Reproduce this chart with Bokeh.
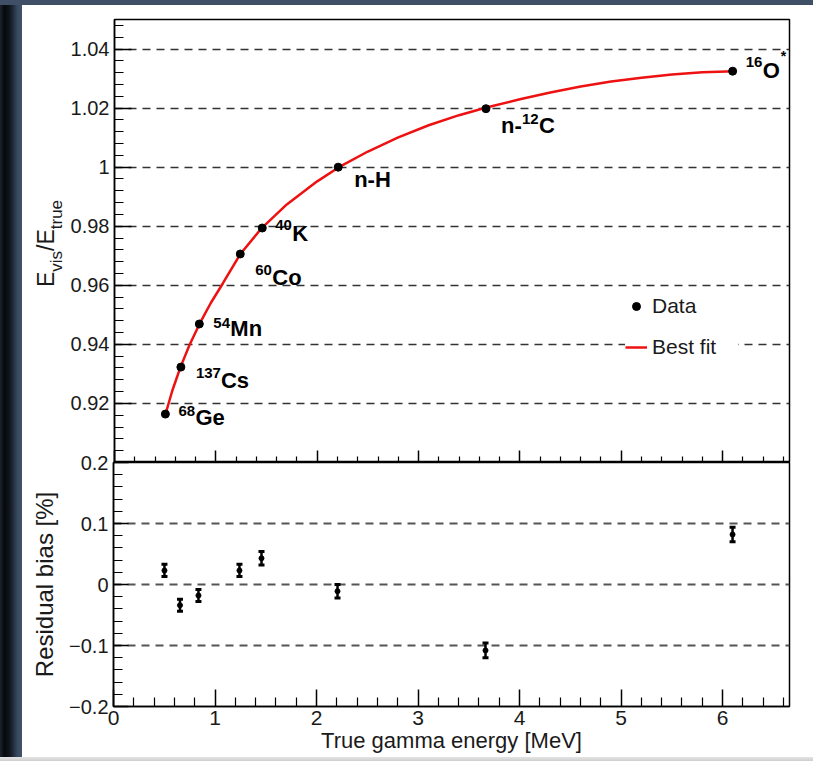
import numpy as np
from bokeh.plotting import figure
from bokeh.models import (ColumnDataSource, FixedTicker, Whisker, TeeHead, Legend,
                          LegendItem, Div, Range1d)
from bokeh.layouts import column, row
from bokeh.core.properties import value
from bokeh.embed import file_html
from bokeh.resources import INLINE

# ---------------- data ----------------
source_names = ["68Ge", "137Cs", "54Mn", "60Co", "40K", "n-H", "n-12C", "16O*"]
label_prefix = ["", "", "", "", "", "", "n-", ""]
label_sup = ["68", "137", "54", "60", "40", "", "12", "16"]
label_main = ["Ge", "Cs", "Mn", "Co", "K", "n-H", "C", "O"]
label_star = ["", "", "", "", "", "", "", "*"]

energy = [0.502, 0.655, 0.837, 1.241, 1.458, 2.207, 3.665, 6.099]
ratio = [0.9164, 0.9323, 0.9469, 0.9706, 0.9794, 1.0000, 1.0198, 1.0325]
residual = [0.023, -0.034, -0.018, 0.023, 0.043, -0.011, -0.108, 0.082]
residual_err = [0.010, 0.010, 0.010, 0.010, 0.011, 0.011, 0.012, 0.012]

fit_energy = [0.50, 0.57, 0.65, 0.74, 0.84, 0.95, 1.07, 1.24, 1.45, 1.70, 2.00, 2.21,
              2.50, 2.80, 3.10, 3.40, 3.67, 4.00, 4.30, 4.60, 4.90, 5.20, 5.50, 5.80, 6.12]
fit_ratio = [0.9160, 0.9243, 0.9322, 0.9398, 0.9470, 0.9540, 0.9607, 0.9705, 0.9793,
             0.9874, 0.9952, 0.9999, 1.0053, 1.0101, 1.0142, 1.0176, 1.0202, 1.0230,
             1.0253, 1.0273, 1.0290, 1.0303, 1.0314, 1.0321, 1.0325]

x_ticks = [0, 1, 2, 3, 4, 5, 6]
x_tick_labels = ["0", "1", "2", "3", "4", "5", "6"]
ratio_ticks = [0.92, 0.94, 0.96, 0.98, 1.00, 1.02, 1.04]
ratio_tick_labels = ["0.92", "0.94", "0.96", "0.98", "1", "1.02", "1.04"]
res_ticks = [-0.2, -0.1, 0.0, 0.1, 0.2]
res_tick_labels = ["\u22120.2", "\u22120.1", "0", "0.1", "0.2"]

# ---------------- styling ----------------
FONT = "Liberation Sans"
TXT = "#1a1a1a"
x_minor = [round(i * 0.2, 2) for i in range(0, 34) if i % 5 != 0]
ratio_minor = [round(0.9 + i * 0.004, 3) for i in range(0, 38) if i % 5 != 0]
res_minor = [round(-0.2 + i * 0.02, 2) for i in range(0, 21) if i % 5 != 0]

# ---------------- upper panel ----------------
p1 = figure(width=746, height=457, x_range=Range1d(0, 6.66), y_range=Range1d(0.9, 1.05),
            output_backend="svg", toolbar_location=None,
            min_border_left=46, min_border_right=24, min_border_top=14, min_border_bottom=0)
p1.outline_line_color = "black"
p1.outline_line_width = 1.5
p1.background_fill_color = "white"
p1.border_fill_color = "white"

xt1 = FixedTicker(ticks=x_ticks, minor_ticks=x_minor)
p1.xaxis.ticker = xt1
p1.xaxis.major_label_overrides = {t: "" for t in x_ticks}
p1.xaxis.major_tick_in = 12
p1.xaxis.major_tick_out = 0
p1.xaxis.minor_tick_in = 6
p1.xaxis.minor_tick_out = 0
p1.xaxis.major_label_text_font_size = "0px"
p1.xaxis.major_label_standoff = 0
p1.xaxis.axis_line_width = 1.5
p1.xaxis.major_tick_line_width = 1.5
p1.xaxis.minor_tick_line_width = 1.2
p1.xgrid.visible = False

yt1 = FixedTicker(ticks=ratio_ticks, minor_ticks=ratio_minor)
p1.yaxis.ticker = yt1
p1.yaxis.major_label_overrides = dict(zip(ratio_ticks, ratio_tick_labels))
p1.yaxis.major_tick_in = 17
p1.yaxis.major_tick_out = 0
p1.yaxis.minor_tick_in = 9
p1.yaxis.minor_tick_out = 0
p1.yaxis.axis_line_width = 1.5
p1.yaxis.major_tick_line_width = 1.5
p1.yaxis.minor_tick_line_width = 1.2
p1.yaxis.major_label_text_font = FONT
p1.yaxis.major_label_text_font_size = "20px"
p1.yaxis.major_label_text_color = TXT
p1.yaxis.major_label_standoff = 5
p1.ygrid.ticker = yt1
p1.ygrid.grid_line_color = "#333333"
p1.ygrid.grid_line_dash = "8 6"
p1.ygrid.grid_line_width = 1.5

fit_r = p1.line(fit_energy, fit_ratio, line_color="#ee1111", line_width=2.5)
pts_r = p1.scatter(energy, ratio, size=8, color="black")

# source labels (offsets in px from the data point, y downwards, text centre)
sup_dx = [13, 15, 14, 15, 13, 0, 36, 13]
sup_dy = [-3.5, 5.5, -1, 16, -3.5, 0, 10, -9]
main_dx = [30, 40, 31, 32, 30, 16, 53, 30]
main_dy = [3.5, 13.5, 4.5, 23.5, 5.5, 12, 17, -1]
prefix_dx, prefix_dy = 15, 17
star_dx, star_dy = 48, -15


def label_source(kind):
    xs, ys, ts, xo, yo = [], [], [], [], []
    for i in range(len(energy)):
        if kind == "main":
            t, dx, dy = label_main[i], main_dx[i], main_dy[i]
            if label_prefix[i]:
                xs.append(energy[i]); ys.append(ratio[i]); ts.append(label_prefix[i])
                xo.append(prefix_dx); yo.append(prefix_dy)
        elif kind == "sup":
            t, dx, dy = label_sup[i], sup_dx[i], sup_dy[i]
        else:
            t, dx, dy = label_star[i], star_dx, star_dy
        if t:
            xs.append(energy[i]); ys.append(ratio[i]); ts.append(t)
            xo.append(dx); yo.append(dy)
    return ColumnDataSource(dict(x=xs, y=ys, text=ts, xo=xo, yo=yo))


for kind, size in [("main", "22px"), ("sup", "15px"), ("star", "14px")]:
    p1.text(x="x", y="y", text="text", x_offset="xo", y_offset="yo",
            source=label_source(kind), text_font=value(FONT), text_font_style="bold",
            text_font_size=value(size), text_color="black", text_align="left",
            text_baseline="middle")

legend = Legend(items=[LegendItem(label="Data", renderers=[pts_r]),
                       LegendItem(label="Best fit", renderers=[fit_r])],
                location=(511, 103))
legend.label_text_font = FONT
legend.label_text_font_size = "21px"
legend.label_text_color = TXT
legend.border_line_color = None
legend.background_fill_color = "white"
legend.background_fill_alpha = 1.0
legend.padding = 6
legend.margin = 0
legend.spacing = 17
legend.glyph_width = 22
legend.glyph_height = 20
legend.label_height = 20
legend.label_width = 86
legend.label_standoff = 5
p1.add_layout(legend)

# y title of the upper panel, E_vis/E_true, as rotated HTML text
title_html = (
    '<div style="box-sizing:border-box;width:45px;height:457px;padding:19px 0 0 5px;'
    'display:flex;align-items:center;justify-content:center;background:white;">'
    '<span style="display:inline-block;transform:rotate(-90deg);white-space:nowrap;'
    "font-family:'Liberation Sans';font-size:23px;color:#1a1a1a;line-height:1;\">"
    'E<sub style="font-size:17px;vertical-align:-8px;line-height:0;">vis</sub>/E'
    '<sub style="font-size:17px;vertical-align:-8px;line-height:0;">true</sub></span></div>')
title_div = Div(text=title_html, width=45, height=457, margin=0)

# ---------------- lower panel ----------------
p2 = figure(width=791, height=307, x_range=p1.x_range, y_range=Range1d(-0.2, 0.2),
            output_backend="svg", toolbar_location=None,
            min_border_left=91, min_border_right=24, min_border_top=12, min_border_bottom=51,
            margin=(-12, 0, 0, 0))
p2.outline_line_color = "black"
p2.outline_line_width = 1.5
p2.background_fill_color = "white"
p2.border_fill_alpha = 0

xt2 = FixedTicker(ticks=x_ticks, minor_ticks=x_minor)
p2.xaxis.ticker = xt2
p2.xaxis.major_label_overrides = dict(zip(x_ticks, x_tick_labels))
p2.xaxis.major_tick_in = 17
p2.xaxis.major_tick_out = 0
p2.xaxis.minor_tick_in = 9
p2.xaxis.minor_tick_out = 0
p2.xaxis.axis_line_width = 1.5
p2.xaxis.major_tick_line_width = 1.5
p2.xaxis.minor_tick_line_width = 1.2
p2.xaxis.major_label_text_font = FONT
p2.xaxis.major_label_text_font_size = "21px"
p2.xaxis.major_label_text_color = TXT
p2.xaxis.major_label_standoff = 4
p2.xaxis.axis_label = "True gamma energy [MeV]"
p2.xaxis.axis_label_text_font = FONT
p2.xaxis.axis_label_text_font_size = "22px"
p2.xaxis.axis_label_text_font_style = "normal"
p2.xaxis.axis_label_text_color = TXT
p2.xaxis.axis_label_standoff = 0
p2.xgrid.visible = False

yt2 = FixedTicker(ticks=res_ticks, minor_ticks=res_minor)
p2.yaxis.ticker = yt2
p2.yaxis.major_label_overrides = dict(zip(res_ticks, res_tick_labels))
p2.yaxis.major_tick_in = 15
p2.yaxis.major_tick_out = 0
p2.yaxis.minor_tick_in = 9
p2.yaxis.minor_tick_out = 0
p2.yaxis.axis_line_width = 1.5
p2.yaxis.major_tick_line_width = 1.5
p2.yaxis.minor_tick_line_width = 1.2
p2.yaxis.major_label_text_font = FONT
p2.yaxis.major_label_text_font_size = "20px"
p2.yaxis.major_label_text_color = TXT
p2.yaxis.major_label_standoff = 5
p2.yaxis.axis_label = "Residual bias [%]"
p2.yaxis.axis_label_text_font = FONT
p2.yaxis.axis_label_text_font_size = "24px"
p2.yaxis.axis_label_text_font_style = "normal"
p2.yaxis.axis_label_text_color = TXT
p2.yaxis.axis_label_standoff = 8
p2.ygrid.ticker = yt2
p2.ygrid.grid_line_color = "#555555"
p2.ygrid.grid_line_dash = "8 6"
p2.ygrid.grid_line_width = 2

res_src = ColumnDataSource(dict(
    x=energy, y=residual,
    upper=[r + e for r, e in zip(residual, residual_err)],
    lower=[r - e for r, e in zip(residual, residual_err)]))
p2.add_layout(Whisker(source=res_src, base="x", upper="upper", lower="lower",
                      line_color="black", line_width=2.5,
                      upper_head=TeeHead(size=6, line_width=3, line_color="black"),
                      lower_head=TeeHead(size=6, line_width=3, line_color="black")))
p2.scatter("x", "y", source=res_src, size=5, color="black")

# ---------------- page frame ----------------
top_bar = Div(text="", width=813, height=5, margin=0,
              styles={"background-color": "#3e4f66"})
left_bar = Div(text="", width=22, height=752, margin=0, styles={
    "background": "linear-gradient(to right, #1c2430 0%, #06080b 20%, #111820 45%, #3a4a5f 80%, #41536a 100%)"})
bottom_bar = Div(text="", width=813, height=4, margin=0, styles={
    "background": "linear-gradient(to bottom, #e4e4e4, #cfcfcf)"})

plots = column(row(title_div, p1), p2)
layout = column(top_bar, row(left_bar, plots), bottom_bar)

open("out.html", "w").write(file_html(layout, INLINE))
